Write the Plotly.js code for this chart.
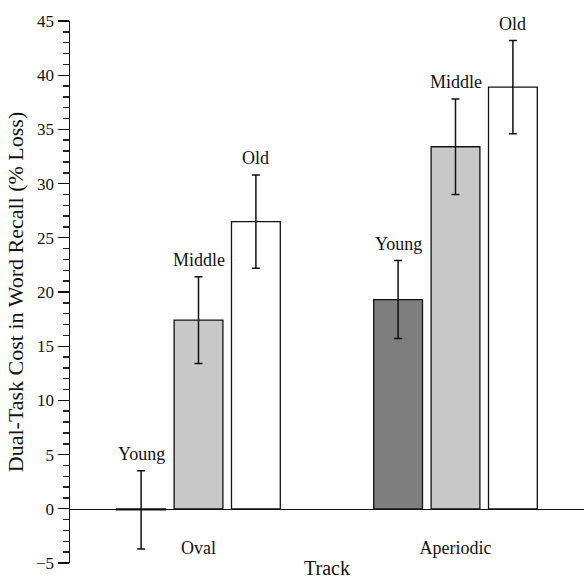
<!DOCTYPE html>
<html>
<head>
<meta charset="utf-8">
<script src="https://cdn.plot.ly/plotly-3.0.1.min.js"></script>
<style>html,body{margin:0;padding:0;background:#fff;}#chart{width:584px;height:579px;}</style>
</head>
<body>
<div id="chart"></div>
<script>
// Data
const tracks = ["Oval", "Aperiodic"];
const groups = ["Young", "Middle", "Old"];
const youngVals = [-0.1, 19.3];
const youngErr = [3.6, 3.6];
const middleVals = [17.4, 33.4];
const middleErr = [4.0, 4.4];
const oldVals = [26.5, 38.9];
const oldErr = [4.3, 4.3];

const seriesVals = [youngVals, middleVals, oldVals];
const seriesErr = [youngErr, middleErr, oldErr];
const fills = ["#7e7e7e", "#c8c8c8", "#ffffff"];

const FONT = "Liberation Serif, Times New Roman, serif";
const bargap = 0.33;

const traces = groups.map((g, i) => ({
  type: "bar",
  name: g,
  x: tracks,
  y: seriesVals[i],
  marker: {color: fills[i], line: {color: "#111", width: 1.3}},
  error_y: {type: "data", array: seriesErr[i], visible: true, color: "#111", thickness: 1.5, width: 4},
  showlegend: false,
  hoverinfo: "skip"
}));

// labels above error bars
const slot = (1 - bargap) / groups.length;
const annotations = [];
groups.forEach((g, i) => {
  tracks.forEach((t, j) => {
    annotations.push({
      x: j + (i - 1) * slot, y: seriesVals[i][j] + seriesErr[i][j],
      xref: "x", yref: "y", text: g, showarrow: false,
      yanchor: "bottom", yshift: 5,
      font: {family: FONT, size: 18, color: "#111"}
    });
  });
});

const layout = {
  width: 584, height: 579,
  margin: {l: 70, r: 0, t: 21, b: 16},
  paper_bgcolor: "#fff", plot_bgcolor: "#fff",
  barmode: "group", bargap: bargap, bargroupgap: 0.15,
  font: {family: FONT, size: 17, color: "#111"},
  xaxis: {
    type: "category", range: [-0.5, 1.5],
    anchor: "free", position: 0.1,
    showline: true, linecolor: "#111", linewidth: 1.5,
    ticks: "", showgrid: false, zeroline: false,
    ticklabelstandoff: 22,
    tickfont: {family: FONT, size: 18, color: "#111"},
    title: {text: "Track", font: {family: FONT, size: 20, color: "#111"}, standoff: 6}
  },
  yaxis: {
    range: [-5, 45], dtick: 5, tick0: 0,
    showline: true, linecolor: "#111", linewidth: 1.5,
    ticks: "outside", ticklen: 11, tickwidth: 1.3, tickcolor: "#111",
    minor: {dtick: 1, tick0: 0, ticks: "outside", ticklen: 6, tickwidth: 1.5, tickcolor: "#222", showgrid: false},
    showgrid: false, zeroline: false,
    tickfont: {family: FONT, size: 17, color: "#111"},
    title: {text: "Dual-Task Cost in Word Recall (% Loss)", font: {family: FONT, size: 22, color: "#111"}, standoff: 6}
  },
  annotations: annotations
};

Plotly.newPlot("chart", traces, layout, {displayModeBar: false, staticPlot: true});
</script>
</body>
</html>
